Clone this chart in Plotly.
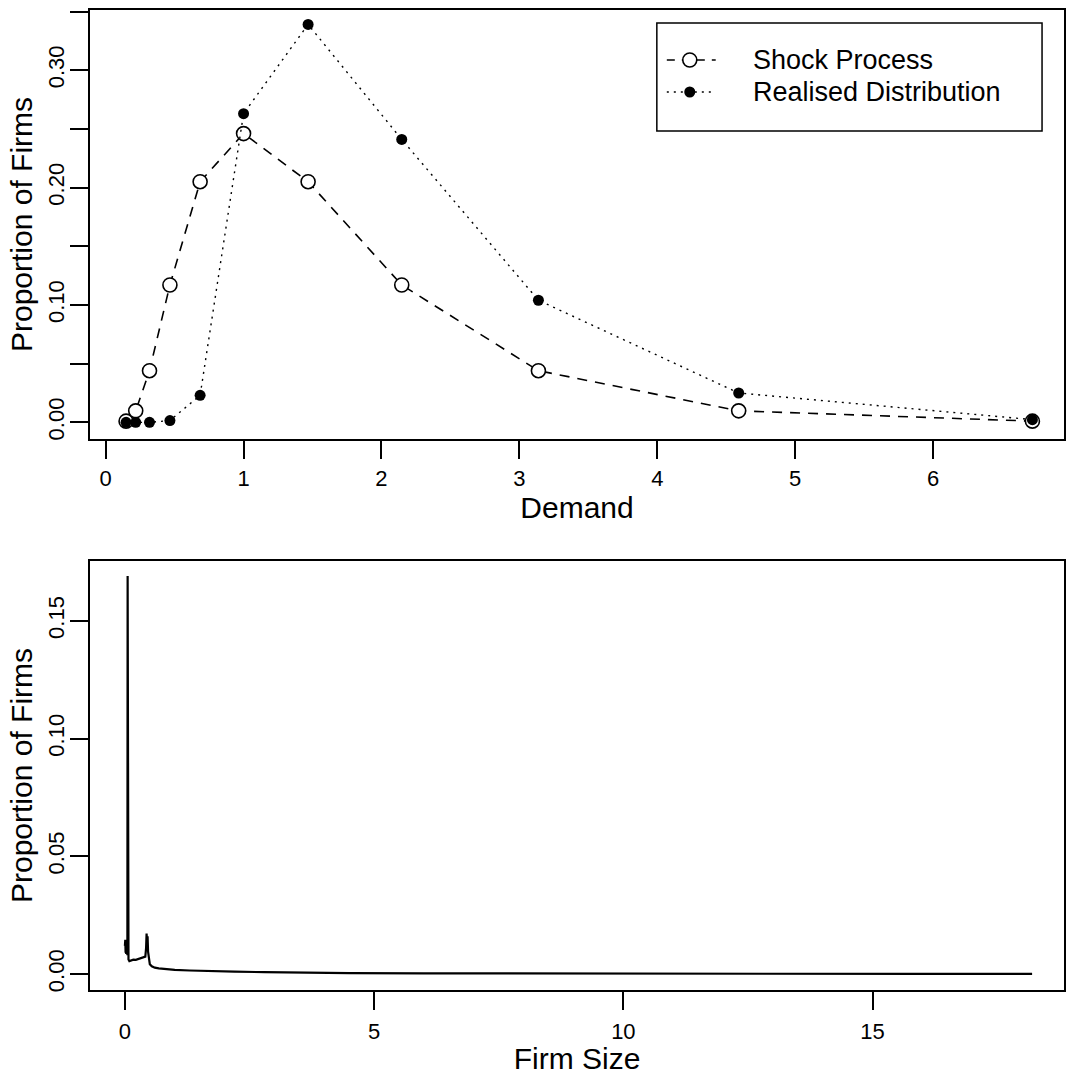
import plotly.graph_objects as go
from plotly.subplots import make_subplots

# Demand grid and the two distributions over it
demand = [0.148, 0.218, 0.318, 0.466, 0.685, 1.0, 1.468, 2.147, 3.138, 4.59, 6.72]
shock_process = [0.001, 0.0098, 0.044, 0.117, 0.205, 0.246, 0.205, 0.117, 0.044, 0.0098, 0.001]
realised_dist = [0.0, 0.0, 0.0, 0.0015, 0.023, 0.263, 0.339, 0.241, 0.104, 0.025, 0.0023]

# Firm size distribution
firm_size = [0.00, 0.008, 0.014, 0.02, 0.026, 0.032, 0.038, 0.044, 0.05, 0.055, 0.06,
             0.065, 0.072, 0.09, 0.12, 0.17, 0.22, 0.28, 0.33, 0.38, 0.41, 0.425,
             0.435, 0.445, 0.455, 0.465, 0.48, 0.50, 0.54, 0.60, 0.68, 0.80, 1.0,
             1.3, 1.7, 2.2, 2.8, 3.5, 4.5, 6.0, 8.0, 10.0, 13.0, 16.0, 18.2]
firm_prop = [0.012, 0.0145, 0.009, 0.014, 0.0085, 0.013, 0.009, 0.0125, 0.008, 0.169, 0.0075,
             0.007, 0.0062, 0.0055, 0.0058, 0.0061, 0.006, 0.0064, 0.0067, 0.007, 0.0074, 0.011,
             0.0172, 0.0135, 0.016, 0.0095, 0.0058, 0.0042, 0.0033, 0.0027, 0.0024, 0.0021, 0.0018,
             0.0015, 0.0012, 0.0010, 0.0008, 0.0006, 0.0004, 0.0003, 0.0002, 0.00012, 0.00008, 0.00005, 0.00003]

top_xticks = [0, 1, 2, 3, 4, 5, 6]
top_yticks = [0.0, 0.05, 0.10, 0.15, 0.20, 0.25, 0.30, 0.35]
top_ylabels = ["0.00", "", "0.10", "", "0.20", "", "0.30", ""]
bot_xticks = [0, 5, 10, 15]
bot_yticks = [0.0, 0.05, 0.10, 0.15]
bot_ylabels = ["0.00", "0.05", "0.10", "0.15"]

legend_names = ["Shock Process", "Realised Distribution"]

FONT = "Liberation Sans, Arial, Helvetica, sans-serif"
TICK = 22
LAB = 30
LEG = 27

W, H = 1067, 1075
ML, MR, MT, MB = 90, 1, 10, 85


def px_x(p):
    """Pixel column -> paper x."""
    return (p - ML) / (W - ML - MR)


def px_y(p):
    """Pixel row -> paper y."""
    return 1 - (p - MT) / (H - MT - MB)


fig = make_subplots(rows=2, cols=1, vertical_spacing=0.1245)

fig.add_trace(go.Scatter(
    x=demand, y=shock_process, mode="lines+markers", name=legend_names[0],
    showlegend=False,
    line=dict(color="black", width=1.6, dash="10px,8px"),
    marker=dict(symbol="circle", size=14, color="white",
                line=dict(color="black", width=1.6)),
), row=1, col=1)
fig.add_trace(go.Scatter(
    x=demand, y=realised_dist, mode="lines+markers", name=legend_names[1],
    showlegend=False,
    line=dict(color="black", width=1.4, dash="2px,5px"),
    marker=dict(symbol="circle", size=11, color="black"),
), row=1, col=1)
fig.add_trace(go.Scatter(
    x=firm_size, y=firm_prop, mode="lines", showlegend=False,
    line=dict(color="black", width=2.2),
), row=2, col=1)

axis_common = dict(
    showline=True, mirror=True, linecolor="black", linewidth=2,
    ticks="outside", ticklen=18, tickwidth=2, tickcolor="black",
    showgrid=False, zeroline=False,
    tickfont=dict(family=FONT, size=TICK, color="black"),
)

fig.update_xaxes(**axis_common)
fig.update_yaxes(**axis_common)

title_font = dict(family=FONT, size=LAB, color="black")
fig.update_xaxes(row=1, col=1, range=[-0.1135, 6.949], tickvals=top_xticks,
                 ticklabelstandoff=1,
                 title=dict(text="Demand", font=title_font, standoff=0))
fig.update_yaxes(row=1, col=1, range=[-0.0142, 0.3513], tickvals=top_yticks,
                 ticktext=top_ylabels, tickangle=-90, ticklabelstandoff=-3,
                 title=dict(text="Proportion of Firms", font=title_font, standoff=3))
fig.update_xaxes(row=2, col=1, range=[-0.70, 18.84], tickvals=bot_xticks,
                 ticklabelstandoff=3,
                 title=dict(text="Firm Size", font=title_font, standoff=0))
fig.update_yaxes(row=2, col=1, range=[-0.00678, 0.1754], tickvals=bot_yticks,
                 ticktext=bot_ylabels, tickangle=-90, ticklabelstandoff=-3,
                 title=dict(text="Proportion of Firms", font=title_font, standoff=3))

# Legend box in the upper-right of the top panel
box_l, box_r, box_t, box_b = 658, 1044, 23, 131
row_y = [60, 92]
key_l, key_r, key_c = 668, 717, 691
text_x = 752

shapes = [dict(type="rect", xref="paper", yref="paper",
               x0=px_x(box_l), x1=px_x(box_r), y0=px_y(box_b), y1=px_y(box_t),
               line=dict(color="black", width=1.5), fillcolor="white", layer="above")]
# dashed key with open circle
shapes.append(dict(type="line", xref="paper", yref="paper",
                   x0=px_x(key_l), x1=px_x(key_r), y0=px_y(row_y[0]), y1=px_y(row_y[0]),
                   line=dict(color="black", width=1.6, dash="8px,7px"), layer="above"))
shapes.append(dict(type="circle", xref="paper", yref="paper",
                   xsizemode="pixel", ysizemode="pixel",
                   xanchor=px_x(key_c), yanchor=px_y(row_y[0]),
                   x0=-7, x1=7, y0=-7, y1=7,
                   line=dict(color="black", width=1.6), fillcolor="white", layer="above"))
# dotted key with filled dot
shapes.append(dict(type="line", xref="paper", yref="paper",
                   x0=px_x(key_l), x1=px_x(key_r), y0=px_y(row_y[1]), y1=px_y(row_y[1]),
                   line=dict(color="black", width=1.4, dash="2px,5px"), layer="above"))
shapes.append(dict(type="circle", xref="paper", yref="paper",
                   xsizemode="pixel", ysizemode="pixel",
                   xanchor=px_x(key_c), yanchor=px_y(row_y[1]),
                   x0=-5.5, x1=5.5, y0=-5.5, y1=5.5,
                   line=dict(color="black", width=0), fillcolor="black", layer="above"))

annotations = [dict(xref="paper", yref="paper", x=px_x(text_x), y=px_y(ry),
                    xanchor="left", yanchor="middle", showarrow=False,
                    text=name, font=dict(family=FONT, size=LEG, color="black"))
               for name, ry in zip(legend_names, row_y)]

fig.update_layout(
    width=W, height=H,
    margin=dict(l=ML, r=MR, t=MT, b=MB),
    paper_bgcolor="white", plot_bgcolor="white",
    font=dict(family=FONT, color="black"),
    showlegend=False,
    shapes=shapes,
    annotations=annotations,
)

fig.write_html("out.html")
